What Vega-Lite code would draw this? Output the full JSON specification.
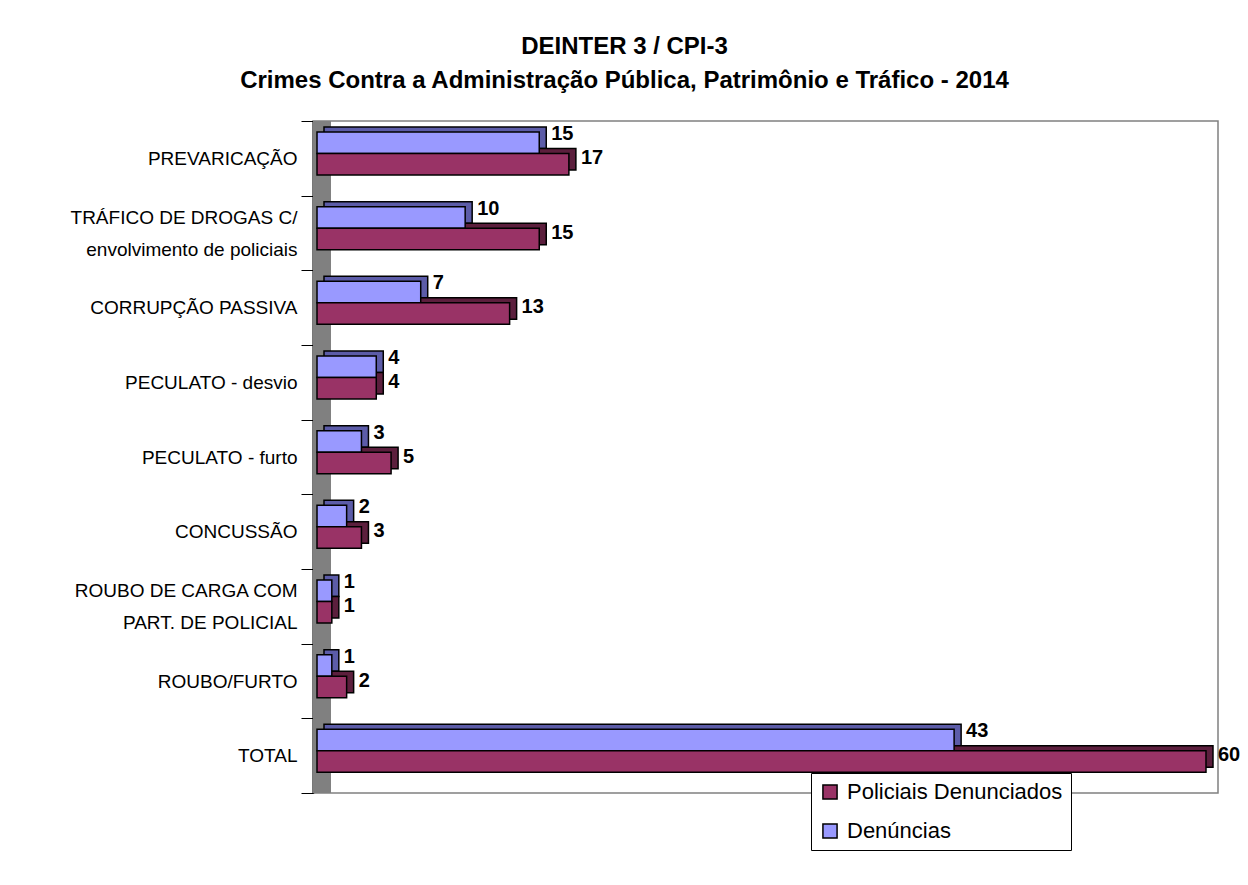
{
  "$schema": "https://vega.github.io/schema/vega-lite/v6.json",
  "autosize": {"type": "none"},
  "width": 905,
  "height": 672,
  "padding": {"left": 313, "top": 121, "right": 30, "bottom": 92},
  "background": "white",
  "title": {
    "text": ["DEINTER 3 / CPI-3", "Crimes Contra a Administração Pública, Patrimônio e Tráfico - 2014"],
    "font": "Liberation Sans",
    "fontSize": 24,
    "fontWeight": "bold",
    "lineHeight": 34,
    "anchor": "middle",
    "frame": "group",
    "dx": -141,
    "offset": 19,
    "color": "black"
  },
  "config": {
    "view": {"stroke": "#808080", "strokeWidth": 1.5},
    "font": "Liberation Sans"
  },
  "data": {
    "values": [
      {"cat": "PREVARICAÇÃO", "series": "Denúncias", "value": 15},
      {"cat": "PREVARICAÇÃO", "series": "Policiais Denunciados", "value": 17},
      {"cat": "TRÁFICO DE DROGAS C/|envolvimento de policiais", "series": "Denúncias", "value": 10},
      {"cat": "TRÁFICO DE DROGAS C/|envolvimento de policiais", "series": "Policiais Denunciados", "value": 15},
      {"cat": "CORRUPÇÃO PASSIVA", "series": "Denúncias", "value": 7},
      {"cat": "CORRUPÇÃO PASSIVA", "series": "Policiais Denunciados", "value": 13},
      {"cat": "PECULATO - desvio", "series": "Denúncias", "value": 4},
      {"cat": "PECULATO - desvio", "series": "Policiais Denunciados", "value": 4},
      {"cat": "PECULATO - furto", "series": "Denúncias", "value": 3},
      {"cat": "PECULATO - furto", "series": "Policiais Denunciados", "value": 5},
      {"cat": "CONCUSSÃO", "series": "Denúncias", "value": 2},
      {"cat": "CONCUSSÃO", "series": "Policiais Denunciados", "value": 3},
      {"cat": "ROUBO DE CARGA COM|PART. DE POLICIAL", "series": "Denúncias", "value": 1},
      {"cat": "ROUBO DE CARGA COM|PART. DE POLICIAL", "series": "Policiais Denunciados", "value": 1},
      {"cat": "ROUBO/FURTO", "series": "Denúncias", "value": 1},
      {"cat": "ROUBO/FURTO", "series": "Policiais Denunciados", "value": 2},
      {"cat": "TOTAL", "series": "Denúncias", "value": 43},
      {"cat": "TOTAL", "series": "Policiais Denunciados", "value": 60}
    ]
  },
  "encoding": {
    "y": {
      "field": "cat",
      "type": "nominal",
      "sort": null,
      "scale": {"paddingInner": 0, "paddingOuter": 0},
      "axis": {
        "title": null,
        "labelExpr": "split(datum.label, '|')",
        "labelFontSize": 19,
        "labelFont": "Liberation Sans",
        "labelColor": "black",
        "labelLineHeight": 32,
        "labelOffset": {"condition": {"test": "indexof(datum.label, '|') >= 0", "value": -16}, "value": 0},
        "labelPadding": 4,
        "labelLimit": 300,
        "tickBand": "extent",
        "tickSize": 12,
        "tickColor": "black",
        "domainColor": "black",
        "domainWidth": 1.5
      }
    }
  },
  "resolve": {"scale": {"yOffset": "independent"}},
  "layer": [
    {
      "mark": {"type": "rect", "fill": "#808080"},
      "encoding": {
        "y": null,
        "x": {"datum": -0.27, "type": "quantitative", "scale": {"domain": [-0.27, 60.81], "nice": false, "zero": false}, "axis": null},
        "x2": {"datum": 0.9}
      }
    },
    {
      "mark": {"type": "bar", "xOffset": 7, "x2Offset": 7, "stroke": "black", "strokeWidth": 1.5},
      "encoding": {
        "x": {"field": "value", "type": "quantitative"},
        "x2": {"datum": 0},
        "yOffset": {"field": "series", "sort": ["Denúncias", "Policiais Denunciados"], "scale": {"range": [6, 49], "paddingInner": 0, "paddingOuter": 0}},
        "fill": {"condition": {"test": "datum.series === 'Denúncias'", "value": "#5C5CA8"}, "value": "#5C1F3D"}
      }
    },
    {
      "mark": {"type": "bar", "stroke": "black", "strokeWidth": 1.5},
      "encoding": {
        "x": {"field": "value", "type": "quantitative"},
        "x2": {"datum": 0},
        "yOffset": {"field": "series", "sort": ["Denúncias", "Policiais Denunciados"], "scale": {"range": [11, 54], "paddingInner": 0, "paddingOuter": 0}},
        "fill": {
          "field": "series",
          "type": "nominal",
          "scale": {"domain": ["Policiais Denunciados", "Denúncias"], "range": ["#993366", "#9999FF"]},
          "legend": {
            "title": null,
            "orient": "none",
            "legendX": 498,
            "legendY": 652,
            "fillColor": "white",
            "strokeColor": "black",
            "padding": 8,
            "symbolType": "square",
            "symbolSize": 200,
            "symbolStrokeColor": "black",
            "symbolStrokeWidth": 1.5,
            "labelFontSize": 22,
            "labelFont": "Liberation Sans",
            "labelColor": "black",
            "labelLimit": 400,
            "rowPadding": 17,
            "labelOffset": 6
          }
        }
      }
    },
    {
      "mark": {"type": "text", "align": "left", "baseline": "middle", "dx": 12, "fontSize": 20, "fontWeight": "bold", "font": "Liberation Sans", "color": "black"},
      "encoding": {
        "x": {"field": "value", "type": "quantitative"},
        "yOffset": {"field": "series", "sort": ["Denúncias", "Policiais Denunciados"], "scale": {"type": "point", "range": [13, 37], "padding": 0}},
        "text": {"field": "value", "type": "quantitative"}
      }
    }
  ]
}
